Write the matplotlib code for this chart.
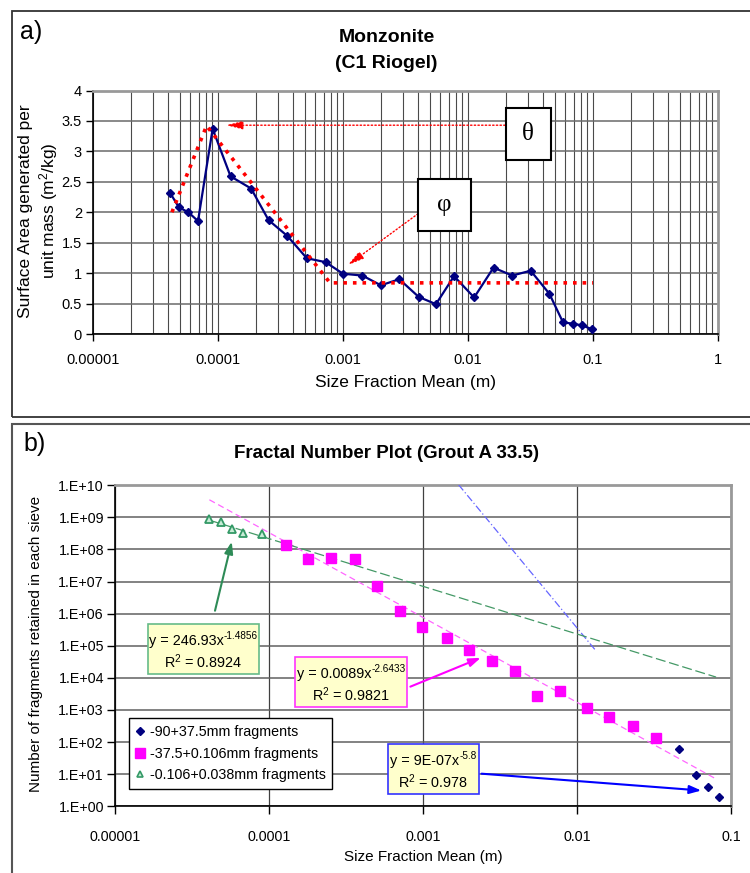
import matplotlib
matplotlib.use('Agg')
import matplotlib.pyplot as plt
from matplotlib.patches import Rectangle
from matplotlib.lines import Line2D
from matplotlib.ticker import LogLocator, NullFormatter
from matplotlib.transforms import Bbox, TransformedBbox, offset_copy
import numpy as np

plt.rcParams['font.family'] = ['Liberation Sans', 'DejaVu Sans']
plt.rcParams['mathtext.fontset'] = 'custom'
plt.rcParams['mathtext.rm'] = 'Liberation Sans'
plt.rcParams['mathtext.it'] = 'Liberation Sans:italic'
plt.rcParams['mathtext.bf'] = 'Liberation Sans:bold'

W, H = 750, 873


def fx(x):
    return x / W


def fy(y):
    return 1 - y / H


# ---- a) Monzonite (C1 Riogel)
size_a = [4.13e-5, 4.87e-5, 5.79e-5, 6.92e-5, 9.06e-5, 1.26e-4, 1.84e-4,
          2.54e-4, 3.59e-4, 5.13e-4, 7.26e-4, 1.0e-3, 1.43e-3, 2.01e-3,
          2.82e-3, 4.03e-3, 5.54e-3, 7.73e-3, 1.12e-2, 1.60e-2, 2.26e-2,
          3.17e-2, 4.48e-2, 5.76e-2, 6.9e-2, 8.2e-2, 9.8e-2]
area_a = [2.32, 2.08, 2.00, 1.855, 3.37, 2.59, 2.39, 1.87, 1.61, 1.245,
          1.18, 0.99, 0.96, 0.80, 0.90, 0.61, 0.49, 0.95, 0.60, 1.09, 0.96,
          1.04, 0.66, 0.19, 0.17, 0.14, 0.08]
trend_a_x = [4.28e-5, 8.1e-5, 7.87e-4, 0.1]
trend_a_y = [2.0, 3.42, 0.84, 0.84]
xticks_a = [1e-5, 1e-4, 1e-3, 1e-2, 1e-1, 1]
xlabels_a = ['0.00001', '0.0001', '0.001', '0.01', '0.1', '1']
yticks_a = [0, 0.5, 1, 1.5, 2, 2.5, 3, 3.5, 4]
ylabels_a = ['0', '0.5', '1', '1.5', '2', '2.5', '3', '3.5', '4']

# ---- b) Fractal Number Plot (Grout A 33.5)
size_coarse = [4.62e-2, 5.94e-2, 7.07e-2, 8.4e-2]
num_coarse = [61, 9.4, 3.9, 1.95]
size_mid = [1.28e-4, 1.79e-4, 2.53e-4, 3.6e-4, 5.03e-4, 7.12e-4, 9.9e-4,
            1.43e-3, 2.0e-3, 2.81e-3, 3.96e-3, 5.5e-3, 7.8e-3, 1.16e-2,
            1.62e-2, 2.32e-2, 3.27e-2]
num_mid = [1.34e8, 5.0e7, 5.4e7, 5.0e7, 7.4e6, 1.18e6, 3.9e5, 1.7e5, 7.3e4,
           3.4e4, 1.63e4, 2.65e3, 3.8e3, 1.12e3, 5.9e2, 3.2e2, 1.29e2]
size_fine = [4.1e-5, 4.86e-5, 5.78e-5, 6.81e-5, 9.0e-5]
num_fine = [9.1e8, 7.0e8, 4.2e8, 3.2e8, 3.0e8]

series_names = ['-90+37.5mm fragments', '-37.5+0.106mm fragments',
                '-0.106+0.038mm fragments']
fit_coef = [9e-7, 0.0089, 246.93]
fit_exp = [-5.8, -2.6433, -1.4856]
fit_r2 = ['0.978', '0.9821', '0.8924']
fit_coef_txt = ['9E-07', '0.0089', '246.93']
fit_exp_txt = ['-5.8', '-2.6433', '-1.4856']
fit_xmin = [1.7e-3, 4.1e-5, 4.1e-5]
fit_xmax = [1.31e-2, 8.0e-2, 8.0e-2]

xticks_b = [1e-5, 1e-4, 1e-3, 1e-2, 1e-1]
xlabels_b = ['0.00001', '0.0001', '0.001', '0.01', '0.1']
yticks_b = [10.0 ** k for k in range(11)]
ylabels_b = ['1.E+%02d' % k for k in range(11)]

fig = plt.figure(figsize=(7.5, 8.73), dpi=100)
renderer = fig.canvas.get_renderer()

# panel frames
fig.patches.append(Rectangle((fx(11.7), fy(416.7)), 1.1, fy(11) - fy(416.7),
                             transform=fig.transFigure, fill=False,
                             edgecolor='#333333', lw=1.3))
fig.patches.append(Rectangle((fx(11.7), -0.1), 1.1, fy(423.7) + 0.1,
                             transform=fig.transFigure, fill=False,
                             edgecolor='#555555', lw=1.5))

# ================= panel a =================
ax = fig.add_axes([fx(93), fy(334), (718 - 93) / W, (334 - 90.5) / H])
ax.set_xscale('log')
ax.set_xlim(1e-5, 1)
ax.set_ylim(0, 4)
ax.xaxis.set_minor_locator(LogLocator(base=10, subs=range(2, 10)))
ax.xaxis.set_minor_formatter(NullFormatter())
ax.set_xticks(xticks_a)
ax.set_xticklabels(xlabels_a)
ax.set_yticks(yticks_a)
ax.set_yticklabels(ylabels_a)
ax.tick_params(which='major', direction='out', length=5, width=1,
               labelsize=10.5, color='black')
ax.tick_params(axis='x', which='major', pad=9)
ax.tick_params(axis='y', which='major', pad=3)
ax.tick_params(which='minor', length=0)
ax.set_axisbelow(True)
ax.grid(which='major', axis='y', color='#6a6a6a', lw=1.1)
ax.grid(which='both', axis='x', color='#4a4a4a', lw=0.8)
for s in ['top', 'right']:
    ax.spines[s].set_color('#999999')
    ax.spines[s].set_linewidth(2)
for s in ['left', 'bottom']:
    ax.spines[s].set_color('black')
    ax.spines[s].set_linewidth(1.2)

ax.plot(size_a, area_a, color='#000080', lw=1.6, marker='D', ms=4.5,
        zorder=4)
ax.plot(trend_a_x, trend_a_y, color='red', lw=2.6, ls=':', zorder=5)

# theta / phi boxes
ax.add_patch(Rectangle((0.660, 0.715), 0.072, 0.213, transform=ax.transAxes,
                       facecolor='white', edgecolor='black', lw=1.5,
                       zorder=6))
ax.text(0.696, 0.8215, '\u03b8', transform=ax.transAxes, ha='center',
        va='center', fontsize=18, family='Liberation Serif', zorder=7)
ax.add_patch(Rectangle((0.520, 0.423), 0.085, 0.215, transform=ax.transAxes,
                       facecolor='white', edgecolor='black', lw=1.5,
                       zorder=6))
ax.text(0.5625, 0.53, '\u03c6', transform=ax.transAxes, ha='center',
        va='center', fontsize=18, family='Liberation Serif', zorder=7)
ax.annotate('', xy=(1.16e-4, 3.43), xytext=(0.0198, 3.43),
            arrowprops=dict(arrowstyle='-|>,head_length=1.0,head_width=0.25',
                            color='red', lw=1, ls=':', shrinkA=0, shrinkB=0),
            zorder=5)
ax.annotate('', xy=(1.09e-3, 1.13), xytext=(3.98e-3, 1.975),
            arrowprops=dict(arrowstyle='-|>,head_length=1.0,head_width=0.25',
                            color='red', lw=1, ls=':', shrinkA=0, shrinkB=0),
            zorder=5)

fig.text(fx(20), fy(32), 'a)', fontsize=18, ha='left', va='center')
fig.text(fx(386.6), fy(38), 'Monzonite', fontsize=14, fontweight='bold',
         ha='center', va='center')
fig.text(fx(386.6), fy(64), '(C1 Riogel)', fontsize=14, fontweight='bold',
         ha='center', va='center')
fig.text(fx(405.5), fy(383), 'Size Fraction Mean (m)', fontsize=12.5,
         ha='center', va='center')
fig.text(fx(39), fy(211),
         'Surface Area generated per\nunit mass (m$^2$/kg)',
         fontsize=12.5, rotation=90, ha='center', va='center',
         multialignment='center', linespacing=1.25)

# ================= panel b =================
bx = fig.add_axes([fx(115), fy(806.2), (731 - 115) / W, (806.2 - 485.2) / H])
bx.set_xscale('log')
bx.set_yscale('log')
bx.set_xlim(1e-5, 1e-1)
bx.set_ylim(1, 1e10)
bx.set_xticks(xticks_b)
bx.set_xticklabels(xlabels_b)
bx.set_yticks(yticks_b)
bx.set_yticklabels(ylabels_b)
bx.xaxis.set_minor_locator(LogLocator(base=10, subs=[]))
bx.yaxis.set_minor_locator(LogLocator(base=10, subs=[]))
bx.tick_params(which='major', direction='out', length=6, width=1,
               labelsize=10.3, color='black')
bx.tick_params(axis='x', pad=11)
bx.tick_params(axis='y', pad=2)
bx.tick_params(which='minor', length=0)
bx.set_axisbelow(True)
bx.grid(which='major', axis='y', color='#606060', lw=1.1)
bx.grid(which='major', axis='x', color='#404040', lw=0.9)
for s in ['top', 'right']:
    bx.spines[s].set_color('#999999')
    bx.spines[s].set_linewidth(2)
for s in ['left', 'bottom']:
    bx.spines[s].set_color('black')
    bx.spines[s].set_linewidth(1.2)

fit_colors = ['#6666ff', '#ff66ff', '#449966']
fit_styles = [(0, (6, 2, 1, 2)), (0, (5, 3)), (0, (8, 3))]
for a, b, x0, x1, c, st in zip(fit_coef, fit_exp, fit_xmin, fit_xmax,
                               fit_colors, fit_styles):
    xs = np.array([x0, x1])
    bx.plot(xs, a * xs ** b, color=c, lw=0.9, ls=st, zorder=3)

bx.plot(size_coarse, num_coarse, ls='none', marker='D', ms=4.5,
        color='#000080', zorder=4)
bx.plot(size_mid, num_mid, ls='none', marker='s', ms=6.5,
        color='#ff00ff', zorder=4)
bx.plot(size_fine, num_fine, ls='none', marker='^', ms=5.5,
        mfc='#c8ecd6', mec='#339966', mew=1.3, zorder=4)

# equation boxes
box_pos = [(0.4427, 0.037, 0.1475, 0.156), (0.292, 0.309, 0.182, 0.156),
           (0.053, 0.411, 0.181, 0.156)]
box_edge = ['#3333ff', '#ff33ff', '#66bb88']
for (x0, y0, w, h), ec, ct, et, r2 in zip(box_pos, box_edge, fit_coef_txt,
                                          fit_exp_txt, fit_r2):
    bx.add_patch(Rectangle((x0, y0), w, h, transform=bx.transAxes,
                           facecolor='#ffffcc', edgecolor=ec, lw=1.2,
                           zorder=6))
    base = bx.text(0, 0, 'y = %sx' % ct, fontsize=10.4)
    sup = bx.text(0, 0, et, fontsize=7.2)
    wb = base.get_window_extent(renderer).width
    ws = sup.get_window_extent(renderer).width
    start = -(wb + ws) / 2
    cx, cy = x0 + w / 2, y0 + h * 0.58
    base.set_transform(offset_copy(bx.transAxes, fig=fig, x=start, y=0,
                                   units='dots'))
    base.set_position((cx, cy))
    base.set_va('baseline')
    base.set_zorder(7)
    sup.set_transform(offset_copy(bx.transAxes, fig=fig, x=start + wb,
                                  y=6, units='dots'))
    sup.set_position((cx, cy))
    sup.set_va('baseline')
    sup.set_zorder(7)
    bx.text(cx, y0 + h * 0.25, 'R$^2$ = %s' % r2,
            transform=bx.transAxes, ha='center', va='center',
            fontsize=10.4, zorder=7)

arrow_kw = dict(shrinkA=0, shrinkB=0, lw=1.5)
bx.annotate('', xy=(5.73e-5, 1.74e8), xytext=(4.46e-5, 1.23e6),
            arrowprops=dict(arrowstyle='-|>,head_length=0.7,head_width=0.25',
                            color='#2e8b57', **arrow_kw), zorder=6)
bx.annotate('', xy=(2.37e-3, 4.2e4), xytext=(8.28e-4, 5.3e3),
            arrowprops=dict(arrowstyle='-|>,head_length=0.7,head_width=0.25',
                            color='#ff00ff', **arrow_kw), zorder=6)
bx.annotate('', xy=(0.0641, 3.08), xytext=(2.40e-3, 10.3),
            arrowprops=dict(arrowstyle='-|>,head_length=0.7,head_width=0.25',
                            color='#0000ff', **arrow_kw), zorder=6)

handles = [
    Line2D([], [], ls='none', marker='D', ms=4.5, color='#000080'),
    Line2D([], [], ls='none', marker='s', ms=6.5, color='#ff00ff'),
    Line2D([], [], ls='none', marker='^', ms=5, mfc='#c8ecd6',
           mec='#339966', mew=1.2),
]
leg = bx.legend(handles, series_names, loc='lower left',
                bbox_to_anchor=(0.0227, 0.054), borderaxespad=0,
                fontsize=10.3, frameon=True, fancybox=False,
                edgecolor='black', framealpha=1, handlelength=0.6,
                handletextpad=0.4, labelspacing=0.55, borderpad=0.45)
leg.get_frame().set_linewidth(1.0)
leg.set_zorder(8)

fig.text(fx(23), fy(444), 'b)', fontsize=18, ha='left', va='center')
fig.text(fx(386), fy(453), 'Fractal Number Plot (Grout A 33.5)',
         fontsize=13.5, fontweight='bold', ha='center', va='center')
fig.text(fx(423), fy(857), 'Size Fraction Mean (m)', fontsize=11,
         ha='center', va='center')
ylab = fig.text(fx(36), fy(792), 'Number of fragments retained in each sieve',
                fontsize=11, rotation=90, ha='center', va='bottom',
                clip_on=True)
ylab.set_clip_box(TransformedBbox(Bbox([[0, 0], [1, fy(496)]]),
                                  fig.transFigure))

fig.savefig('out.png', dpi=100)
